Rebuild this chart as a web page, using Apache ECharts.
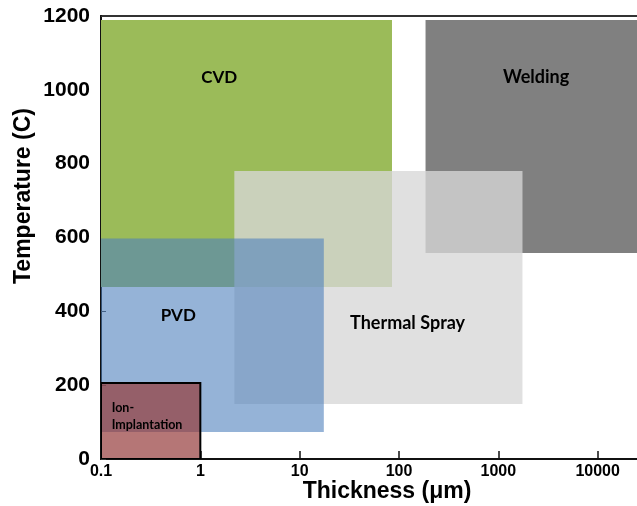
<!DOCTYPE html>
<html>
<head>
<meta charset="utf-8">
<script src="https://cdn.jsdelivr.net/npm/echarts@6/dist/echarts.min.js"></script>
<style>html,body{margin:0;padding:0;background:#fff;}#c{width:637px;height:506px;}</style>
</head>
<body>
<div id="c"></div>
<script>
// Processes (categories) and their ranges
const categories = ['CVD', 'Welding', 'Thermal Spray', 'PVD', 'Ion-\nImplantation'];
const thicknessMin = [0.1, 185, 2.2, 0.1, 0.1];        // µm
const thicknessMax = [85, 100000, 1750, 17.5, 1.0];    // µm
const temperatureMin = [466, 558, 149, 73, 0];         // °C
const temperatureMax = [1189, 1189, 780, 597, 206];    // °C
// label anchor points (data units)
const labelThickness = [1.55, 2400, 122, 0.6, 0.128];
const labelTemperature = [1033, 1035, 368, 390, 115];
// tick labels
const yTicks = [0, 200, 400, 600, 800, 1000, 1200];
const xTicks = [0.1, 1, 10, 100, 1000, 10000];

const fills = ['#9BBB59', '#808080', 'rgba(215,215,215,0.78)', 'rgba(79,129,189,0.6)', 'rgba(150,60,60,0.7)'];
const labelSizes = [17, 18, 18, 17, 12.5];

const rectData = categories.map((c, i) => [thicknessMin[i], thicknessMax[i], temperatureMin[i], temperatureMax[i], i]);
const labelData = categories.map((c, i) => [labelThickness[i], labelTemperature[i], i]);

const chart = echarts.init(document.getElementById('c'), null, {renderer: 'canvas'});
chart.setOption({
  animation: false,
  grid: {left: 101, top: 16, right: -60, bottom: 47, show: true, borderColor: '#333', borderWidth: 2,
    outerBoundsMode: 'none', containLabel: false},
  xAxis: {
    type: 'log', logBase: 10, min: 0.1, max: 100000,
    axisLine: {show: true, lineStyle: {color: '#111', width: 2}},
    axisTick: {show: true, inside: true, length: 8, lineStyle: {color: '#111', width: 1.5}},
    minorTick: {show: false},
    splitLine: {show: false},
    axisLabel: {
      margin: 5, fontSize: 16, fontWeight: 'bold', color: '#000', fontFamily: '"Liberation Sans", Arial, sans-serif',
      formatter: function (v) {
        for (const t of xTicks) { if (Math.abs(v - t) / t < 1e-6) return String(t); }
        return '';
      }
    }
  },
  yAxis: {
    type: 'value', min: 0, max: 1200, interval: 200,
    axisLine: {show: true, lineStyle: {color: '#111', width: 2}},
    axisTick: {show: true, inside: true, length: 5, lineStyle: {color: '#333'}},
    splitLine: {show: false},
    axisLabel: {
      margin: 11, fontSize: 21, fontWeight: 'bold', color: '#000', fontFamily: '"Liberation Sans", Arial, sans-serif',
      formatter: function (v) { return yTicks.indexOf(v) >= 0 ? String(v) : ''; }
    }
  },
  graphic: [
    {type: 'text', x: 24, y: 196, rotation: Math.PI / 2,
      style: {text: 'Temperature (C)', font: 'bold 23px "Liberation Sans", Arial, sans-serif', fill: '#000', align: 'center', verticalAlign: 'middle'}},
    {type: 'text', x: 387, y: 492,
      style: {text: 'Thickness (\u03bcm)', font: 'bold 23px "Liberation Sans", Arial, sans-serif', fill: '#000', align: 'center', verticalAlign: 'middle'}}
  ],
  series: [
    {
      type: 'custom',
      data: rectData,
      encode: {x: [0, 1], y: [2, 3]},
      clip: true,
      renderItem: function (params, api) {
        const i = api.value(4);
        const p0 = api.coord([api.value(0), api.value(3)]);
        const p1 = api.coord([api.value(1), api.value(2)]);
        const isIon = i === 4;
        return {
          type: 'rect',
          shape: {x: p0[0], y: p0[1], width: p1[0] - p0[0], height: p1[1] - p0[1]},
          style: {fill: fills[i], stroke: isIon ? '#000' : null, lineWidth: isIon ? 2 : 0}
        };
      },
      z: 2
    },
    {
      type: 'custom',
      data: labelData,
      encode: {x: 0, y: 1},
      renderItem: function (params, api) {
        const i = api.value(2);
        const p = api.coord([api.value(0), api.value(1)]);
        const isIon = i === 4;
        return {
          type: 'text',
          x: p[0], y: p[1],
          style: {
            text: categories[i],
            font: 'bold ' + labelSizes[i] + 'px Lato, "Open Sans", sans-serif',
            fill: '#000',
            align: isIon ? 'left' : 'center',
            verticalAlign: 'middle',
            lineHeight: isIon ? 17 : 20
          }
        };
      },
      z: 3
    }
  ]
});
</script>
</body>
</html>
